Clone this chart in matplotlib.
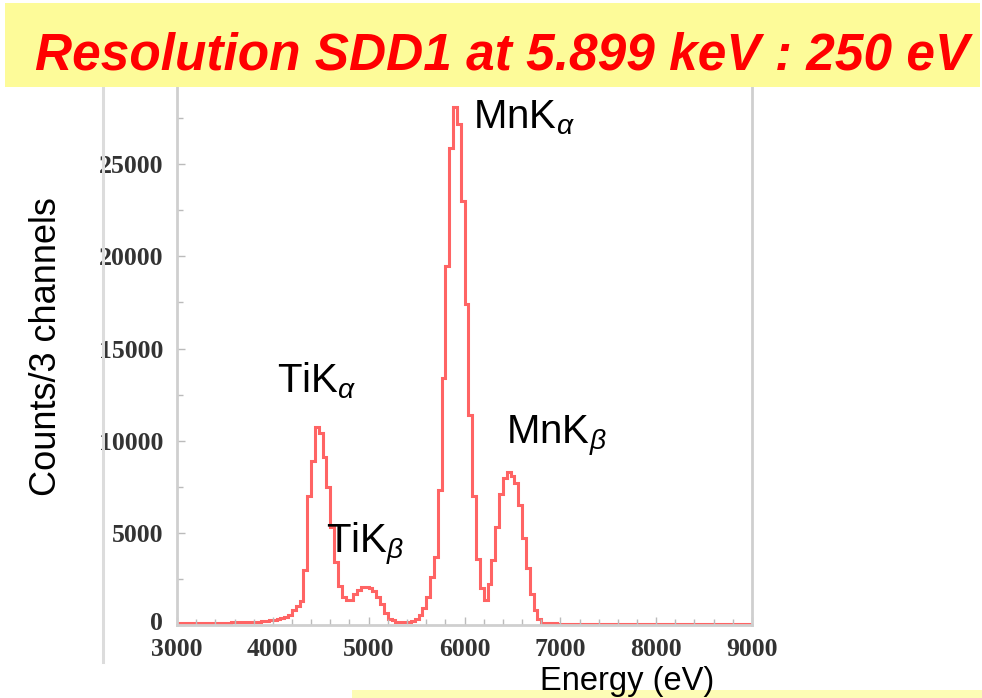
import numpy as np
import matplotlib
matplotlib.use("Agg")
import matplotlib.pyplot as plt
import matplotlib.transforms as mtransforms
from matplotlib.patches import Rectangle
from matplotlib.lines import Line2D
from matplotlib.ticker import MultipleLocator

# ---- data: counts per 40 eV bin (3 channels) from 3000 eV to 9000 eV ----
bin_start = 3000
bin_width = 40
counts = [
    110, 110, 110, 115, 110, 115, 120, 115, 120, 125,
    125, 130, 130, 135, 140, 140, 150, 150, 160, 165,
    170, 180, 190, 210, 250, 270, 320, 380, 450, 560,
    800, 1050, 1300, 3000, 7000, 8900, 10750, 10400, 9100, 7500,
    5300, 3400, 2100, 1500, 1350, 1380, 1700, 1900, 2050, 2050,
    2000, 1850, 1500, 1150, 650, 350, 250, 180, 160, 150,
    170, 220, 330, 550, 900, 1500, 2600, 3700, 7300, 13400,
    19500, 25900, 28100, 27200, 23000, 17400, 11400, 7000, 3600, 2000,
    1350, 2250, 3500, 5300, 7100, 8000, 8300, 8100, 7700, 6500,
    4700, 3100, 1700, 800, 300, 120, 100, 90, 85, 80,
    80, 80, 75, 75, 75, 70, 70, 70, 70, 70,
    65, 65, 65, 65, 65, 60, 60, 60, 60, 60,
    60, 60, 60, 55, 55, 55, 55, 55, 55, 55,
    55, 55, 55, 50, 50, 50, 50, 50, 50, 50,
    50, 50, 50, 50, 50, 50, 50, 50, 50, 50,
]
edges = bin_start + bin_width * np.arange(len(counts) + 1)

x_ticks = [3000, 4000, 5000, 6000, 7000, 8000, 9000]
y_ticks = [0, 5000, 10000, 15000, 20000, 25000]

peak_labels = ["MnK$_{\\alpha}$", "TiK$_{\\alpha}$", "TiK$_{\\beta}$", "MnK$_{\\beta}$"]
peak_label_x = [6089, 4043, 4555, 6433]
peak_label_y = [26950, 12630, 3900, 9870]

title = "Resolution SDD1 at 5.899 keV : 250 eV"

# ---- figure ----
W, H = 982, 698
fig = plt.figure(figsize=(W / 100, H / 100), dpi=100)
fig.patch.set_facecolor("white")

def fx(px):
    return px / W

def fy(py):
    return 1 - py / H

ax_left, ax_right = 177, 752
ax_bottom, ax_top = 625, 72
ax = fig.add_axes([fx(ax_left), fy(ax_bottom), (ax_right - ax_left) / W,
                   (ax_bottom - ax_top) / H])
ax.set_facecolor("white")

ax.stairs(counts, edges, color="#ff6464", linewidth=2.2, baseline=None)

ax.set_xlim(3000, 9000)
ax.set_ylim(0, 30000)
ax.set_xticks(x_ticks)
ax.set_yticks(y_ticks)
ax.xaxis.set_minor_locator(MultipleLocator(200))
ax.yaxis.set_minor_locator(MultipleLocator(2500))

spine_col = "#cfcfcf"
for s in ax.spines.values():
    s.set_color(spine_col)
    s.set_linewidth(2)
ax.tick_params(which="both", direction="in", color="#bbbbbb", top=False, right=False)
ax.tick_params(which="major", length=6, width=1)
ax.tick_params(which="minor", length=4, width=1)
ax.tick_params(axis="y", pad=10)
ax.tick_params(axis="x", pad=9)
for lab in ax.get_xticklabels() + ax.get_yticklabels():
    lab.set_fontfamily("Liberation Serif")
    lab.set_fontweight("bold")
    lab.set_fontsize(18.5)
    lab.set_color("#333333")

# the "0" label sits slightly above its tick, as in the reference
zero_lab = ax.get_yticklabels()[0]
zero_lab.set_transform(zero_lab.get_transform() +
                       mtransforms.ScaledTranslation(0, 4 / 100, fig.dpi_scale_trans))

plt.rcParams["mathtext.fontset"] = "custom"
plt.rcParams["mathtext.rm"] = "Liberation Sans"
plt.rcParams["mathtext.it"] = "Liberation Sans:italic"

for t, xx, yy in zip(peak_labels, peak_label_x, peak_label_y):
    ax.text(xx, yy, t, fontsize=29, family="Liberation Sans", color="black",
            ha="left", va="baseline")

# left decorative grey line
fig.add_artist(Line2D([fx(103), fx(103)], [fy(87), fy(662)], color="#dcdcdc",
                      linewidth=2.2, zorder=1))

# yellow banner and title
fig.add_artist(Rectangle((fx(5), fy(87)), fx(980) - fx(5), fy(3) - fy(87),
                         facecolor="#fdfb99", edgecolor="none", zorder=5))
fig.text(fx(502), fy(70), title, fontsize=37, family="Liberation Sans",
         weight="bold", style="italic", color="#ff0000", ha="center",
         va="baseline", zorder=6)

# bottom yellow strip
fig.add_artist(Rectangle((fx(352), 0), 1 - fx(352), 8 / H,
                         facecolor="#fdfcb5", edgecolor="none", zorder=5))

# axis labels
fig.text(fx(47), fy(347), "Counts/3 channels", rotation=90, fontsize=26,
         family="Liberation Sans", color="black", ha="center", va="center")
fig.text(fx(627), fy(690), "Energy (eV)", fontsize=23.5,
         family="Liberation Sans", color="black", ha="center", va="baseline",
         zorder=7)

fig.savefig("out.png", dpi=100, facecolor="white")
